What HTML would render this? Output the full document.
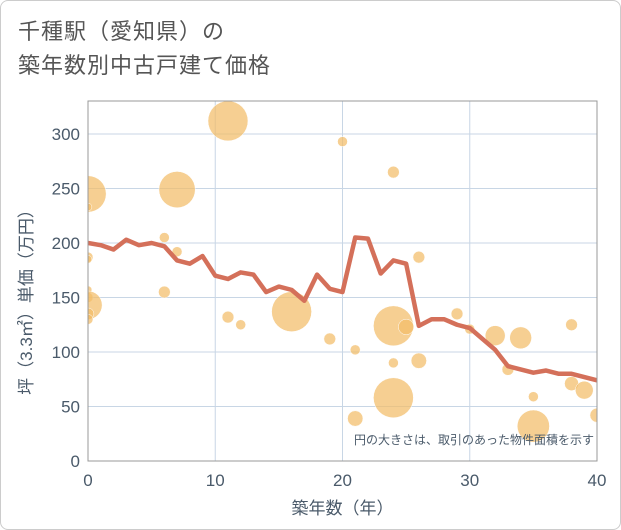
<!DOCTYPE html>
<html><head><meta charset="utf-8"><style>
body{margin:0;background:#fff;}
.wrap{width:619px;height:528px;border:1px solid #ccc;border-radius:8px;position:relative;font-family:"Liberation Sans","Noto Sans CJK JP",sans-serif;overflow:hidden}
.title{position:absolute;left:17px;top:14px;font-size:22px;line-height:34px;color:#555;letter-spacing:1px}
svg{position:absolute;left:0;top:0}
</style></head><body>
<div class="wrap">
<div class="title">千種駅（愛知県）の<br>築年数別中古戸建て価格</div>
<svg id="c" width="621" height="530"><defs><clipPath id="pc"><rect x="87" y="100" width="509" height="360"/></clipPath></defs></svg>
</div>
<script>
const years=[0,1,2,3,4,5,6,7,8,9,10,11,12,13,14,15,16,17,18,19,20,21,22,23,24,25,26,27,28,29,30,31,32,33,34,35,36,37,38,39,40];
const avgPrice=[200,198,194,203,198,200,197,184,181,188,170,167,173,171,155,160,157,147,171,158,155,205,204,172,184,181,124,130,130,125,122,112,102,87,84,81,83,80,80,77,74];
const bubbleAge=[0,0,0,0,0,0,0,0,0,7,6,7,6,11,11,12,16,19,20,21,21,24,24,24,24,25,26,26,29,30,32,33,34,35,35,38,38,39,40];
const bubblePrice=[245,233,187,185,157,150,143,135,130,249,205,192,155,312,132,125,137,112,293,102,39,265,124,90,58,123,187,92,135,121,115,84,113,59,32,125,71,65,42];
const bubbleArea=[330,15,25,15,15,25,200,35,25,330,25,25,35,400,35,25,400,35,25,25,60,35,400,25,400,60,35,60,35,25,100,35,120,25,260,35,50,80,50];
const xTicks=[0,10,20,30,40];
const yTicks=[0,50,100,150,200,250,300];
const L=87,R=596,T=100,B=460;
const X=v=>L+(v-0)/40*(R-L);
const Y=v=>B-v*(B-133)/300;
const s=document.getElementById('c');const ns='http://www.w3.org/2000/svg';
function el(t,a,p){const e=document.createElementNS(ns,t);for(const k in a)e.setAttribute(k,a[k]);(p||s).appendChild(e);return e;}
yTicks.forEach(v=>{const g=el('line',{x1:L,x2:R,y1:Y(v),y2:Y(v),stroke:'#c8d6e5','stroke-width':1});

const t=el('text',{x:L-8,y:Y(v)+6,'text-anchor':'end','font-size':17,fill:'#4a5a6a'});t.textContent=v;
});
xTicks.forEach(v=>{const g=el('line',{x1:X(v),x2:X(v),y1:T,y2:B,stroke:'#c8d6e5','stroke-width':1});

const t=el('text',{x:X(v),y:B+25,'text-anchor':'middle','font-size':17,fill:'#4a5a6a'});t.textContent=v;
});
const gp=el('g',{'clip-path':'url(#pc)'});

bubbleAge.forEach((a,i)=>{const c=el('circle',{cx:X(a),cy:Y(bubblePrice[i]),r:Math.sqrt(bubbleArea[i]),fill:'#f2bc68','fill-opacity':0.72,stroke:'#fff','stroke-width':0.5},gp);
});
const ln=el('polyline',{points:years.map((y,i)=>X(y)+','+Y(avgPrice[i])).join(' '),fill:'none',stroke:'#d4705a','stroke-width':4.5,'stroke-linejoin':'round'},gp);

const fr=el('rect',{x:L,y:T,width:R-L,height:B-T,fill:'none',stroke:'#999','stroke-width':1});

const n=el('text',{x:593,y:443,'text-anchor':'end','font-size':12,fill:'#4a5a6a'});n.textContent='円の大きさは、取引のあった物件面積を示す';

const xt=el('text',{x:(L+R)/2,y:513,'text-anchor':'middle','font-size':17,fill:'#4a5a6a'});xt.textContent='築年数（年）';

const yt=el('text',{x:0,y:0,'text-anchor':'middle','font-size':17,fill:'#4a5a6a',transform:'translate(31,297) rotate(-90)'});yt.textContent='坪（3.3㎡）単価（万円）';

</script>
</body></html>
